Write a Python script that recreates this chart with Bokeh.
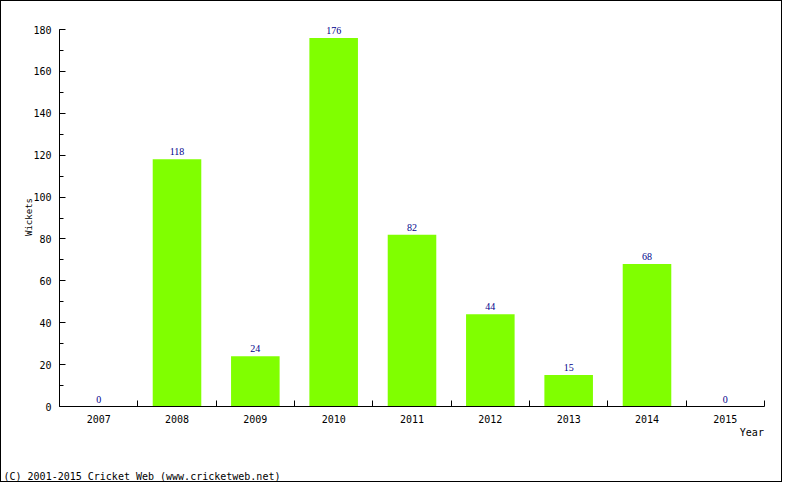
import math
from bokeh.plotting import figure
from bokeh.models import Range1d, LinearAxis, FixedTicker, SingleIntervalTicker, Label, LabelSet, ColumnDataSource
from bokeh.embed import file_html
from bokeh.resources import INLINE

years = ["2007", "2008", "2009", "2010", "2011", "2012", "2013", "2014", "2015"]
wickets = [0, 118, 24, 176, 82, 44, 15, 68, 0]
y_label = "Wickets"
x_label = "Year"
credit = "(C) 2001-2015 Cricket Web (www.cricketweb.net)"
y_max = 180

FONT = "DejaVu Sans Mono"
FS = "10px"

# canvas geometry (pixels inside the 1px border)
W, H = 782, 482
L, R, T, B = 58, 763, 28, 405          # where the axes sit
n = len(years)
ppx = (R - L) / n
ppy = (B - T) / y_max

def dx(px):
    return (px - L) / ppx

def dy(py):
    return (B - py) / ppy

pos = [i + 0.5 for i in range(n)]
src = ColumnDataSource(dict(x=pos, y=wickets, lab=[str(v) for v in wickets]))

p = figure(width=W, height=H, output_backend="svg", toolbar_location=None,
           x_range=Range1d(dx(0), dx(W)), y_range=Range1d(dy(H), dy(0)),
           x_axis_type=None, y_axis_type=None, min_border=0)
p.styles = {"border": "1px solid black"}
p.outline_line_color = None
p.background_fill_color = "white"
p.border_fill_color = "white"

yticker = SingleIntervalTicker(interval=20, num_minor_ticks=2)
yaxis = LinearAxis(ticker=yticker, bounds=(0, y_max), fixed_location=0)
yaxis.major_tick_in = 6
yaxis.major_tick_out = 0
yaxis.minor_tick_in = 4
yaxis.minor_tick_out = 0
yaxis.major_label_standoff = 8
yaxis.major_label_text_font = FONT
yaxis.major_label_text_font_size = FS
yaxis.major_label_text_color = "black"
yaxis.axis_line_color = "black"
yaxis.major_tick_line_color = "black"
yaxis.minor_tick_line_color = "black"
p.add_layout(yaxis, "left")

xaxis = LinearAxis(ticker=FixedTicker(ticks=pos, minor_ticks=list(range(1, n + 1))),
                   bounds=(0, n), fixed_location=0)
xaxis.major_label_overrides = {pos[i]: years[i] for i in range(n)}
xaxis.major_tick_in = 0
xaxis.major_tick_out = 0
xaxis.minor_tick_in = 6
xaxis.minor_tick_out = 0
xaxis.major_label_standoff = 8
xaxis.major_label_text_font = FONT
xaxis.major_label_text_font_size = FS
xaxis.major_label_text_color = "black"
xaxis.axis_line_color = "black"
xaxis.minor_tick_line_color = "black"
p.add_layout(xaxis, "below")

p.ygrid.ticker = yticker
p.ygrid.bounds = (0, y_max)
p.ygrid.grid_line_color = "#dcdcdc"
p.xgrid.grid_line_color = None

p.vbar(x="x", top="y", width=0.62, bottom=0, source=src, fill_color="#80ff00", line_color=None)
p.add_layout(LabelSet(x="x", y="y", text="lab", source=src, text_align="center", text_baseline="bottom",
                      y_offset=4, text_font=FONT, text_font_size=FS, text_color="#00008b"))

p.add_layout(Label(x=dx(27), y=dy(215.5), text=y_label, angle=math.pi / 2,
                   text_align="center", text_baseline="middle",
                   text_font=FONT, text_font_size="9px", text_color="black"))
p.add_layout(Label(x=dx(762.4), y=dy(430.7), text=x_label, text_align="right",
                   text_baseline="middle", text_font=FONT, text_font_size=FS, text_color="black"))
p.add_layout(Label(x=dx(2), y=dy(475.3), text=credit, text_align="left",
                   text_baseline="middle", text_font=FONT, text_font_size=FS, text_color="black"))

open("out.html", "w").write(file_html(p, INLINE))
